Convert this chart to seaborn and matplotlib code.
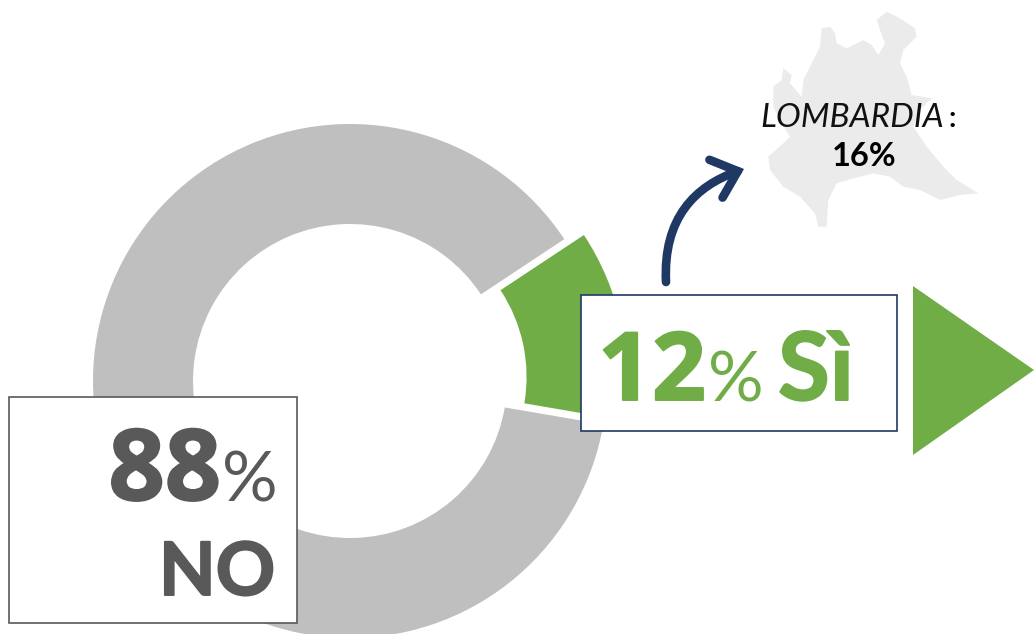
import matplotlib
matplotlib.use("Agg")
import matplotlib.pyplot as plt
import matplotlib.patheffects as pe
from matplotlib.patches import FancyArrowPatch, Polygon, Rectangle
from matplotlib.path import Path
import seaborn as sns

# Survey answers
answers = ["Sì", "NO"]
shares = [12, 88]
slice_colors = ["#70AD47", "#BFBFBF"]
regional_label = "LOMBARDIA"
regional_value = "16%"

# Lombardy silhouette, traced as pixel offsets on a 3x grid
region_outline = [
    (245, 85), (270, 80), (285, 100), (290, 130), (320, 145), (370, 120), (395, 135),
    (415, 165), (435, 130), (420, 90), (410, 60), (440, 35), (480, 55), (525, 85),
    (530, 110), (490, 150), (480, 190), (500, 230), (515, 285), (575, 295), (540, 330),
    (520, 380), (560, 440), (610, 500), (650, 540), (715, 580), (660, 585), (600, 600),
    (540, 570), (490, 560), (450, 530), (400, 520), (340, 535), (290, 550), (265, 600),
    (260, 680), (235, 680), (225, 640), (180, 590), (130, 560), (90, 510), (85, 470),
    (130, 430), (150, 410), (125, 370), (100, 320), (100, 260), (125, 240), (130, 205),
    (155, 225), (150, 250), (185, 290), (190, 240), (215, 190), (240, 140),
]

W, H = 1034, 634
NAVY = "#1F3864"
DARK = "#595959"
GREEN = slice_colors[0]
FONT = "Lato"
DIGIT_FONT = "Open Sans"


def flip(y):
    return H - y


def heavy(color, width=1.4):
    """Thicken large figures with an outline in their own colour."""
    return [pe.withStroke(linewidth=width, foreground=color)]


sns.set_theme(style="white")
plt.rcParams["font.family"] = [FONT, "DejaVu Sans"]

fig = plt.figure(figsize=(W / 100, H / 100), dpi=100, facecolor="white")
ax = fig.add_axes([0, 0, 1, 1])

# Ring with the "Sì" slice pulled out
ax.pie(
    shares,
    colors=sns.color_palette(slice_colors),
    center=(350, flip(381)),
    radius=257,
    startangle=-9.7,
    explode=[20, 0],
    wedgeprops={"width": 100, "linewidth": 0},
    frame=True,
)
ax.set_xlim(0, W)
ax.set_ylim(0, H)
ax.set_aspect("equal")
ax.set_axis_off()

# Region map behind the regional figure
ax.add_patch(Polygon(
    [(740 + x / 3, flip(y / 3)) for x, y in region_outline],
    closed=True, facecolor="#EBEBEB", edgecolor="none", zorder=2,
))
ax.text(760, flip(127), regional_label, fontsize=24, style="italic", fontweight="normal",
        color="#111111", ha="left", va="baseline", zorder=5)
ax.text(948, flip(127), ":", fontsize=21, fontweight="bold", color="black",
        ha="left", va="baseline", zorder=5)
ax.text(864, flip(166), regional_value, fontsize=23.5, fontweight="bold", color="black",
        ha="center", va="baseline", zorder=5)

# Curved pointer from the "Sì" box to the region
curve = Path(
    [(666, flip(282)), (663, flip(218)), (695, flip(186)), (744, flip(169))],
    [Path.MOVETO, Path.CURVE4, Path.CURVE4, Path.CURVE4],
)
ax.add_patch(FancyArrowPatch(
    path=curve, arrowstyle="->,head_length=0.83,head_width=0.72", mutation_scale=20,
    color=NAVY, linewidth=6.2, capstyle="round", joinstyle="miter", zorder=4,
    shrinkA=0, shrinkB=0,
))

# Callout boxes
ax.add_patch(Rectangle((581, flip(431)), 316, 136, facecolor="white",
                       edgecolor=NAVY, linewidth=1.2, zorder=3))
ax.add_patch(Rectangle((9, flip(623)), 288, 226, facecolor="white",
                       edgecolor=DARK, linewidth=1.2, zorder=3))

# Direction marker to the right of the "Sì" box
ax.add_patch(Polygon([(913, flip(286)), (913, flip(455)), (1034, flip(370))],
                     closed=True, facecolor=GREEN, edgecolor="none", zorder=3))

# "12% Sì"
ax.text(706, flip(400), "12", fontsize=68, fontweight="bold", fontfamily=DIGIT_FONT,
        color=GREEN, ha="right", va="baseline", zorder=5, path_effects=heavy(GREEN))
ax.text(764, flip(401), "%", fontsize=50, fontweight="normal", color=GREEN,
        ha="right", va="baseline", zorder=5)
ax.text(854, flip(400), answers[0], fontsize=68, fontweight="bold", color=GREEN,
        ha="right", va="baseline", zorder=5, path_effects=heavy(GREEN))

# "88% NO"
ax.text(221, flip(500), "88", fontsize=71, fontweight="bold", fontfamily=DIGIT_FONT,
        color=DARK, ha="right", va="baseline", zorder=5, path_effects=heavy(DARK))
ax.text(278, flip(501), "%", fontsize=50, fontweight="normal", color=DARK,
        ha="right", va="baseline", zorder=5)
ax.text(275, flip(595), answers[1], fontsize=53, fontweight="bold", color=DARK,
        ha="right", va="baseline", zorder=5, path_effects=heavy(DARK))

fig.savefig("out.png", dpi=100, facecolor="white")
